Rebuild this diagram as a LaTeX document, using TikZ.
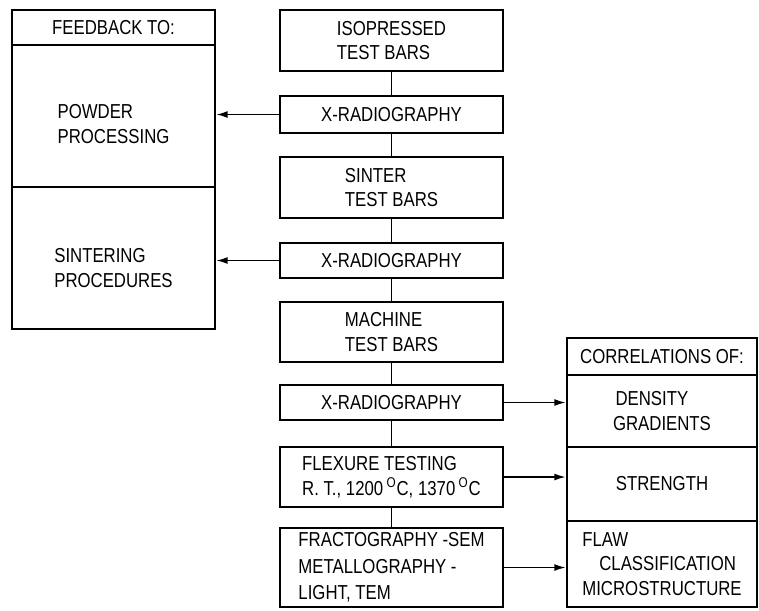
\documentclass[tikz,border=0pt]{standalone}
\usepackage{fontspec}
\setmainfont{Liberation Sans}[FakeStretch=0.83]
\usetikzlibrary{arrows.meta}
\tikzset{
  stagebox/.style={draw,line width=1.5pt,minimum width=4.46cm,align=left,inner sep=0pt},
  cellbox/.style={draw,line width=1.5pt,inner sep=0pt,align=left},
  link/.style={line width=0.9pt},
  feed/.style={line width=0.9pt,-{Latex[length=6.5pt,width=4pt]}}
}

\begin{document}
\begin{tikzpicture}[x=0.02cm,y=-0.02cm,font=\fontsize{11.5}{14}\selectfont]
\path[use as bounding box] (0,0) rectangle (759,610);
% process column
\node[stagebox,minimum height=1.22cm] (iso) at (391.5,40.5) {ISOPRESSED\\TEST BARS};
\node[stagebox,minimum height=0.74cm] (xr1) at (391.5,114.5) {X-RADIOGRAPHY};
\node[stagebox,minimum height=1.22cm] (sin) at (391.5,187.5) {SINTER\\TEST BARS};
\node[stagebox,minimum height=0.70cm] (xr2) at (391.5,260.5) {X-RADIOGRAPHY};
\node[stagebox,minimum height=1.20cm] (mac) at (391.5,332) {MACHINE\\TEST BARS};
\node[stagebox,minimum height=0.70cm] (xr3) at (391.5,402.5) {X-RADIOGRAPHY};
\node[stagebox,minimum height=1.20cm] (flx) at (391.5,477) {FLEXURE TESTING\\R.~T.,~1200\,\textsuperscript{O}C,~1370\,\textsuperscript{O}C};
\node[stagebox,minimum height=1.58cm] (frc) at (391.5,567.5) {FRACTOGRAPHY -SEM\\[1pt]METALLOGRAPHY -\\[1pt]LIGHT, TEM};
\foreach \a/\b in {iso/xr1,xr1/sin,sin/xr2,xr2/mac,mac/xr3,xr3/flx,flx/frc}
  \draw[link] (\a.south) -- (\b.north);
% feedback box
\node[cellbox,minimum width=4.06cm,minimum height=0.70cm] (fbhead) at (113.5,27.5) {FEEDBACK TO:};
\node[cellbox,minimum width=4.06cm,minimum height=2.84cm] (fbpow) at (113.5,116) {};
\node[cellbox,minimum width=4.06cm,minimum height=2.84cm] (fbsin) at (113.5,258) {};
\node[align=left] (powtxt) at ([yshift=-0.16cm]fbpow.center) {POWDER\\PROCESSING};
\node[align=left] (sintxt) at ([yshift=-0.20cm]fbsin.center) {SINTERING\\PROCEDURES};
% correlations box
\node[cellbox,minimum width=3.8cm,minimum height=0.74cm] (corhead) at (662,356.5) {CORRELATIONS OF:};
\node[cellbox,minimum width=3.8cm,minimum height=1.44cm] (cdens) at (662,411) {\hspace*{0.05cm}DENSITY\\GRADIENTS};
\node[cellbox,minimum width=3.8cm,minimum height=1.48cm] (cstr) at (662,484) {STRENGTH};
\node[cellbox,minimum width=3.8cm,minimum height=1.72cm] (cflaw) at (662,564) {FLAW\\\hspace*{0.34cm}CLASSIFICATION\\MICROSTRUCTURE};
% arrows
\draw[feed] (xr1.west) -- (xr1.west -| fbpow.east);
\draw[feed] (xr2.west) -- (xr2.west -| fbsin.east);
\draw[feed] (xr3.east) -- (xr3.east -| cdens.west);
\draw[feed] (flx.east) -- (flx.east -| cstr.west);
\draw[feed] (frc.east) -- (frc.east -| cflaw.west);
\end{tikzpicture}
\end{document}
